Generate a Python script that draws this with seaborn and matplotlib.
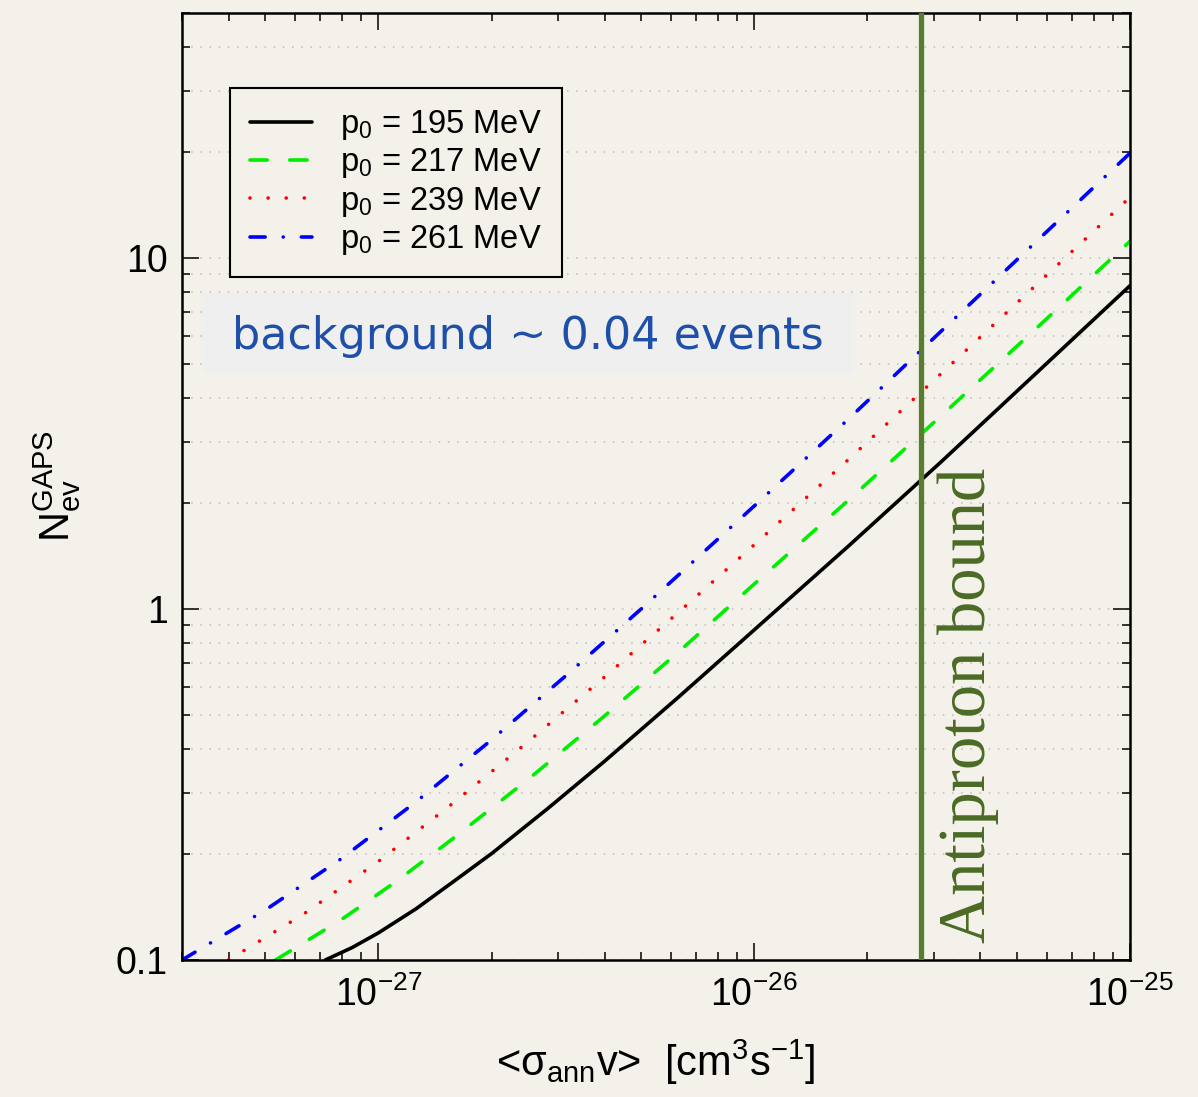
import numpy as np
import pandas as pd
import matplotlib
matplotlib.use("Agg")
import matplotlib.pyplot as plt
import seaborn as sns
from matplotlib.ticker import FixedLocator, FixedFormatter, LogLocator, NullFormatter, LogFormatterSciNotation
from matplotlib.patches import Rectangle

# ---------------- data ----------------
labels = ["p$_0$ = 195 MeV", "p$_0$ = 217 MeV", "p$_0$ = 239 MeV", "p$_0$ = 261 MeV"]

x_195 = [7.22e-28, 8.51e-28, 1.0e-27, 1.26e-27, 1.58e-27, 2.0e-27, 2.82e-27, 3.98e-27, 6.31e-27, 1.0e-26, 1.78e-26, 3.16e-26, 5.62e-26, 1.0e-25]
y_195 = [0.100, 0.1085, 0.1195, 0.140, 0.167, 0.201, 0.270, 0.367, 0.563, 0.872, 1.51, 2.64, 4.69, 8.34]

x_217 = [5.32e-28, 7.94e-28, 1.12e-27, 1.58e-27, 2.51e-27, 3.98e-27, 6.31e-27, 1.0e-26, 1.78e-26, 3.16e-26, 5.62e-26, 1.0e-25]
y_217 = [0.100, 0.130, 0.168, 0.222, 0.328, 0.494, 0.757, 1.178, 2.04, 3.57, 6.29, 11.16]

x_239 = [3.99e-28, 6.31e-28, 1.0e-27, 1.58e-27, 2.51e-27, 3.98e-27, 6.31e-27, 1.0e-26, 1.78e-26, 3.16e-26, 5.62e-26, 1.0e-25]
y_239 = [0.100, 0.135, 0.191, 0.280, 0.420, 0.638, 0.982, 1.524, 2.665, 4.71, 8.37, 14.9]

x_261 = [3.0e-28, 5.01e-28, 7.94e-28, 1.26e-27, 2.0e-27, 3.16e-27, 5.01e-27, 1.0e-26, 1.78e-26, 3.16e-26, 5.62e-26, 1.0e-25]
y_261 = [0.100, 0.139, 0.194, 0.2825, 0.424, 0.647, 1.002, 1.966, 3.475, 6.22, 11.12, 19.9]

antiproton_bound = 2.78e-26
x_limits = [3.0e-28, 1.0e-25]
x_major = [1e-27, 1e-26, 1e-25]
y_limits = [0.1, 50.0]
y_major = [0.1, 1, 10]
y_major_labels = ["0.1", "1", "10"]
y_minor = [0.2, 0.3, 0.4, 0.5, 0.6, 0.7, 0.8, 0.9, 2, 3, 4, 5, 6, 7, 8, 9, 20, 30, 40, 50]

# ---------------- style ----------------
BG = "#f4f1ea"
sns.set_theme(style="ticks")
plt.rcParams["font.family"] = ["Liberation Sans", "DejaVu Sans"]
plt.rcParams["mathtext.fontset"] = "custom"
plt.rcParams["mathtext.rm"] = "Liberation Sans"
plt.rcParams["mathtext.it"] = "Liberation Sans:italic"
plt.rcParams["mathtext.bf"] = "Liberation Sans:bold"
plt.rcParams["axes.unicode_minus"] = True
for k in ["text.color", "axes.labelcolor", "xtick.color", "ytick.color", "axes.edgecolor"]:
    plt.rcParams[k] = "black"

df = pd.concat([
    pd.DataFrame({"x": x_195, "y": y_195, "series": labels[0]}),
    pd.DataFrame({"x": x_217, "y": y_217, "series": labels[1]}),
    pd.DataFrame({"x": x_239, "y": y_239, "series": labels[2]}),
    pd.DataFrame({"x": x_261, "y": y_261, "series": labels[3]}),
], ignore_index=True)

palette = {labels[0]: "black", labels[1]: "#00ee00", labels[2]: "#ff0000", labels[3]: "#0000ff"}
dashes = {labels[0]: "", labels[1]: (4.8, 6.2), labels[2]: (0.01, 5.0), labels[3]: (4.2, 5.0, 0.01, 5.0)}

fig = plt.figure(figsize=(11.98, 10.97), dpi=100, facecolor=BG)
ax = fig.add_axes([182/1198, 1-960/1097, (1130-182)/1198, (960-12.7)/1097])
ax.set_facecolor(BG)

sns.lineplot(data=df, x="x", y="y", hue="series", style="series", palette=palette,
             dashes=dashes, hue_order=labels, style_order=labels, estimator=None,
             sort=True, lw=2.6, dash_capstyle="round", solid_joinstyle="round", ax=ax, legend=True)

ax.set_xscale("log")
ax.set_yscale("log")
ax.set_xlim(*x_limits)
ax.set_ylim(*y_limits)

ax.axvline(antiproton_bound, color="#587d2e", lw=3.8, zorder=3)

# ticks
ax.xaxis.set_major_locator(FixedLocator(x_major))
ax.xaxis.set_minor_locator(LogLocator(base=10, subs=np.arange(2, 10), numticks=100))
ax.xaxis.set_major_formatter(LogFormatterSciNotation())
ax.xaxis.set_minor_formatter(NullFormatter())
ax.yaxis.set_major_locator(FixedLocator(y_major))
ax.yaxis.set_major_formatter(FixedFormatter(y_major_labels))
ax.yaxis.set_minor_locator(FixedLocator(y_minor))
ax.yaxis.set_minor_formatter(NullFormatter())
ax.tick_params(which="both", direction="in", top=True, right=True, color="black", width=1.1)
ax.tick_params(which="major", length=12, labelsize=27, pad=10)
ax.tick_params(which="minor", length=6)
ax.tick_params(axis="x", which="major", pad=12)

ax.yaxis.grid(True, which="both", linestyle=(0, (1, 5)), color="#bdbdbd", lw=1.1)
ax.set_axisbelow(True)
for s in ax.spines.values():
    s.set_linewidth(1.8)
    s.set_color("black")

ax.set_xlabel("<σ$_{\\rm ann}$v>  [cm$^3$s$^{-1}$]", fontsize=30, labelpad=17)
ax.set_ylabel("N$_{\\rm ev}^{\\rm GAPS}$", fontsize=30, labelpad=24)

handles, labs = ax.get_legend_handles_labels()
leg = ax.legend(handles, labs, loc="upper left", bbox_to_anchor=((230-182)/948, (960-88)/947.3),
                borderaxespad=0, fontsize=23.5, frameon=True, fancybox=False, edgecolor="black",
                facecolor=BG, framealpha=1, handlelength=1.9, handletextpad=0.85,
                labelspacing=0.13, borderpad=0.62)
leg.get_frame().set_linewidth(1.5)

ax.text((968-182)/948, (960-705)/947.3, "Antiproton bound", rotation=90, transform=ax.transAxes,
        ha="center", va="center", fontsize=48, color="#4b6a24", family=["Liberation Serif", "DejaVu Serif"])

# annotation box
fig.add_artist(Rectangle((203/1198, 1-373/1097), 650/1198, 80/1097, transform=fig.transFigure,
                         facecolor="#efefef", edgecolor="none", zorder=5))
fig.text(528/1198, 1-336/1097, "background ~ 0.04 events", ha="center", va="center",
         fontsize=32, color="#1e50aa", family=["DejaVu Sans"], zorder=6)

fig.savefig("out.png", dpi=100, facecolor=BG)
